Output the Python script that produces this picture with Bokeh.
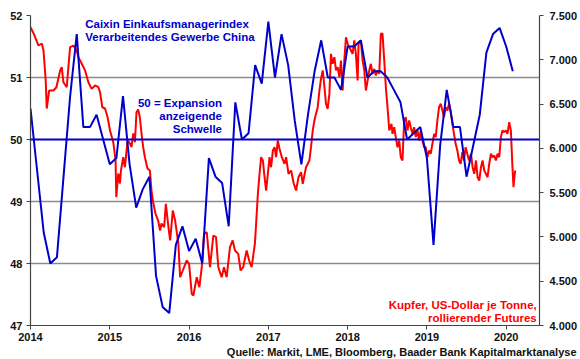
import pandas as pd
from bokeh.plotting import figure
from bokeh.models import Range1d, LinearAxis, FixedTicker, Span, Label, Title
from bokeh.embed import file_html
from bokeh.resources import INLINE

# ---------------- data ----------------
# Caixin manufacturing PMI, monthly, plotted at month end, starting Dec 2013
pmi_start = "2013-12"
pmi_values = [50.5,
              49.5, 48.5, 48.0, 48.1, 49.4, 50.7, 51.7, 50.2, 50.2, 50.4, 50.0, 49.6,
              49.7, 50.7, 49.6, 48.9, 49.2, 49.4, 47.8, 47.3, 47.2, 48.3, 48.6, 48.2,
              48.4, 48.0, 49.7, 49.4, 49.3, 48.6, 50.6, 50.0, 50.1, 51.2, 50.9, 51.9,
              51.0, 51.7, 51.2, 50.3, 49.6, 50.4, 51.1, 51.6, 51.0, 51.0, 50.8, 51.5,
              51.5, 51.6, 51.0, 51.1, 51.1, 51.0, 50.8, 50.6, 50.0, 50.1, 50.2, 49.7,
              48.3, 49.9, 50.8, 50.2, 50.2, 49.4, 49.9, 50.4, 51.4, 51.7, 51.8, 51.5,
              51.1]

# Copper, USD per tonne (rolling futures), time as decimal year
copper_t = [2014.000, 2014.038, 2014.101, 2014.142, 2014.164, 2014.192, 2014.205, 2014.235,
            2014.289, 2014.327, 2014.374, 2014.394, 2014.415, 2014.457, 2014.499, 2014.541,
            2014.582, 2014.604, 2014.645, 2014.688, 2014.730, 2014.771, 2014.814, 2014.855,
            2014.877, 2014.906, 2014.940, 2014.972, 2015.003, 2015.044, 2015.073, 2015.082,
            2015.107, 2015.128, 2015.141, 2015.170, 2015.191, 2015.224, 2015.254, 2015.274,
            2015.296, 2015.317, 2015.337, 2015.358, 2015.379, 2015.400, 2015.421, 2015.443,
            2015.475, 2015.506, 2015.526, 2015.547, 2015.576, 2015.610, 2015.635, 2015.652,
            2015.686, 2015.707, 2015.740, 2015.761, 2015.795, 2015.824, 2015.865, 2015.887,
            2015.921, 2015.971, 2016.000, 2016.034, 2016.054, 2016.097, 2016.130, 2016.160,
            2016.189, 2016.223, 2016.264, 2016.306, 2016.340, 2016.369, 2016.411, 2016.440,
            2016.474, 2016.516, 2016.550, 2016.579, 2016.620, 2016.650, 2016.683, 2016.726,
            2016.758, 2016.789, 2016.830, 2016.846, 2016.868, 2016.889, 2016.909, 2016.931,
            2016.952, 2016.972, 2016.994, 2017.015, 2017.035, 2017.057, 2017.078, 2017.098,
            2017.119, 2017.141, 2017.170, 2017.204, 2017.224, 2017.254, 2017.287, 2017.321,
            2017.350, 2017.380, 2017.413, 2017.434, 2017.475, 2017.518, 2017.538, 2017.560,
            2017.581, 2017.601, 2017.623, 2017.644, 2017.664, 2017.686, 2017.708, 2017.727,
            2017.748, 2017.770, 2017.790, 2017.811, 2017.833, 2017.853, 2017.874, 2017.896,
            2017.916, 2017.937, 2017.958, 2017.979, 2018.000, 2018.021, 2018.042, 2018.063,
            2018.084, 2018.104, 2018.126, 2018.138, 2018.167, 2018.189, 2018.210, 2018.230,
            2018.252, 2018.273, 2018.293, 2018.314, 2018.336, 2018.356, 2018.377, 2018.399,
            2018.419, 2018.440, 2018.462, 2018.482, 2018.503, 2018.525, 2018.553, 2018.566,
            2018.587, 2018.607, 2018.629, 2018.650, 2018.670, 2018.692, 2018.713, 2018.733,
            2018.755, 2018.776, 2018.796, 2018.818, 2018.839, 2018.859, 2018.881, 2018.902,
            2018.922, 2018.943, 2018.965, 2018.985, 2019.006, 2019.028, 2019.048, 2019.069,
            2019.091, 2019.111, 2019.132, 2019.153, 2019.174, 2019.195, 2019.216, 2019.237,
            2019.258, 2019.279, 2019.299, 2019.321, 2019.342, 2019.362, 2019.384, 2019.405,
            2019.425, 2019.447, 2019.468, 2019.488, 2019.509, 2019.531, 2019.556, 2019.576,
            2019.597, 2019.619, 2019.639, 2019.660, 2019.682, 2019.702, 2019.723, 2019.745,
            2019.765, 2019.786, 2019.808, 2019.828, 2019.849, 2019.870, 2019.891, 2019.912,
            2019.933, 2019.953, 2019.975, 2019.996, 2020.016, 2020.038, 2020.059, 2020.079,
            2020.092, 2020.101, 2020.113]
copper_usd = [7368, 7300, 7161, 7184, 7105, 6766, 6450, 6653,
              6653, 6690, 6880, 6916, 6747, 6690, 7142, 7161,
              7105, 7030, 6958, 6880, 6747, 6672, 6710, 6690,
              6634, 6464, 6450, 6352, 6202, 6070, 5863, 5450,
              5716, 5603, 5750, 5900, 5787, 6089, 6055, 6013,
              6168, 6070, 6408, 6438, 6352, 6168, 6013, 5900,
              5772, 5750, 5524, 5392, 5264, 5185, 5072, 5151,
              5110, 5374, 5110, 4960, 5298, 5185, 4925, 4545,
              4621, 4734, 4697, 4358, 4339, 4545, 4433, 4658,
              5035, 5053, 4658, 5016, 4997, 4658, 4545, 4658,
              4545, 4884, 4960, 4847, 4809, 4621, 4658, 4847,
              4734, 4658, 4922, 5151, 5490, 5713, 5900, 5863,
              5674, 5524, 5716, 5900, 5787, 5976, 6013, 5900,
              6089, 5995, 5900, 5825, 5900, 5713, 5750, 5600,
              5524, 5674, 5731, 5600, 5787, 5863, 6013, 6202,
              6315, 6390, 6465, 6653, 6785, 6880, 6690, 6503,
              6446, 6615, 7067, 6954, 7030, 6880, 6917, 6803,
              6991, 6653, 6991, 7255, 7180, 7143, 7105, 7067,
              7218, 7067, 6766, 7180, 7218, 6991, 6880, 6653,
              6766, 6880, 6954, 6841, 6897, 6822, 6880, 6841,
              7293, 7296, 6991, 6690, 6465, 6202, 6277, 6164,
              6239, 6127, 6013, 6089, 5900, 5863, 6315, 6352,
              6202, 6315, 6239, 6164, 6239, 6127, 6202, 6089,
              6202, 6089, 6013, 6013, 5900, 5976, 5939, 6051,
              6164, 6127, 6315, 6465, 6503, 6427, 6352, 6465,
              6427, 6503, 6427, 6277, 6164, 6051, 5976, 5863,
              5826, 5957, 5863, 6013, 5939, 5863, 5939, 5787,
              5712, 5863, 5674, 5637, 5787, 5863, 5750, 5712,
              5674, 5826, 5939, 5900, 5919, 5863, 5939, 5900,
              6127, 6202, 6183, 6202, 6164, 6296, 6202, 5787,
              5562, 5656, 5750]

year_ticks = [2014, 2015, 2016, 2017, 2018, 2019, 2020]
left_ticks = [47, 48, 49, 50, 51, 52]
right_ticks = [4000, 4500, 5000, 5500, 6000, 6500, 7000, 7500]
right_labels = ["4.000", "4.500", "5.000", "5.500", "6.000", "6.500", "7.000", "7.500"]

months = pd.period_range(pmi_start, periods=len(pmi_values), freq="M")
pmi_x = [m.year + m.month / 12 for m in months]  # month-end position

# ---------------- figure ----------------
BLUE = "#0000CC"
RED = "#FF0000"
FONT = "Liberation Sans"

p = figure(width=580, height=359, output_backend="svg", toolbar_location=None,
           x_range=Range1d(2014, 2020.42), y_range=Range1d(47, 52),
           min_border_left=30, min_border_right=40, min_border_top=15, min_border_bottom=34)
p.extra_y_ranges = {"cu": Range1d(4000, 7500)}
p.outline_line_color = None

p.xgrid.visible = False
p.ygrid.ticker = FixedTicker(ticks=[48, 49, 51, 52])
p.ygrid.grid_line_color = "#8c8c8c"
p.ygrid.grid_line_width = 1.5

p.xaxis.ticker = FixedTicker(ticks=year_ticks)
p.yaxis.ticker = FixedTicker(ticks=left_ticks)

cu_axis = LinearAxis(y_range_name="cu", ticker=FixedTicker(ticks=right_ticks),
                     major_label_overrides=dict(zip(right_ticks, right_labels)))
p.add_layout(cu_axis, "right")

for ax in [p.xaxis[0], p.yaxis[0], cu_axis]:
    ax.axis_line_color = "#444444"
    ax.axis_line_width = 1.2
    ax.major_tick_line_color = "#444444"
    ax.major_tick_in = 0
    ax.major_tick_out = 4
    ax.minor_tick_line_color = None
    ax.major_label_text_font = FONT
    ax.major_label_text_font_style = "bold"
    ax.major_label_text_font_size = "11px"
    ax.major_label_text_color = "#111111"
p.yaxis[0].major_label_standoff = 4
cu_axis.major_label_standoff = 6
p.xaxis[0].major_label_standoff = 3

p.line(copper_t, copper_usd, y_range_name="cu", line_color=RED, line_width=2)
p.add_layout(Span(location=50, dimension="width", line_color=BLUE, line_width=2))
p.line(pmi_x, pmi_values, line_color=BLUE, line_width=2)

def lab(x, y, text, color, align, y_range_name="default"):
    p.add_layout(Label(x=x, y=y, text=text, text_color=color, text_align=align,
                       text_baseline="middle", text_font=FONT, text_font_style="bold",
                       text_font_size="11.5px", y_range_name=y_range_name))

lab(2014.69, 51.855, "Caixin Einkaufsmanagerindex", BLUE, "left")
lab(2014.69, 51.661, "Verarbeitendes Gewerbe China", BLUE, "left")
lab(2016.415, 50.581, "50 = Expansion", BLUE, "right")
lab(2016.415, 50.371, "anzeigende", BLUE, "right")
lab(2016.415, 50.177, "Schwelle", BLUE, "right")
lab(2020.385, 4226, "Kupfer, US-Dollar je Tonne,", RED, "right", "cu")
lab(2020.385, 4090, "rollierender Futures", RED, "right", "cu")

src = Title(text="Quelle: Markit, LME, Bloomberg, Baader Bank Kapitalmarktanalyse",
            align="right", text_font=FONT, text_font_style="bold", text_font_size="11px",
            text_color="#111111", standoff=0, offset=-37)
p.add_layout(src, "below")

open("out.html", "w").write(file_html(p, INLINE))
